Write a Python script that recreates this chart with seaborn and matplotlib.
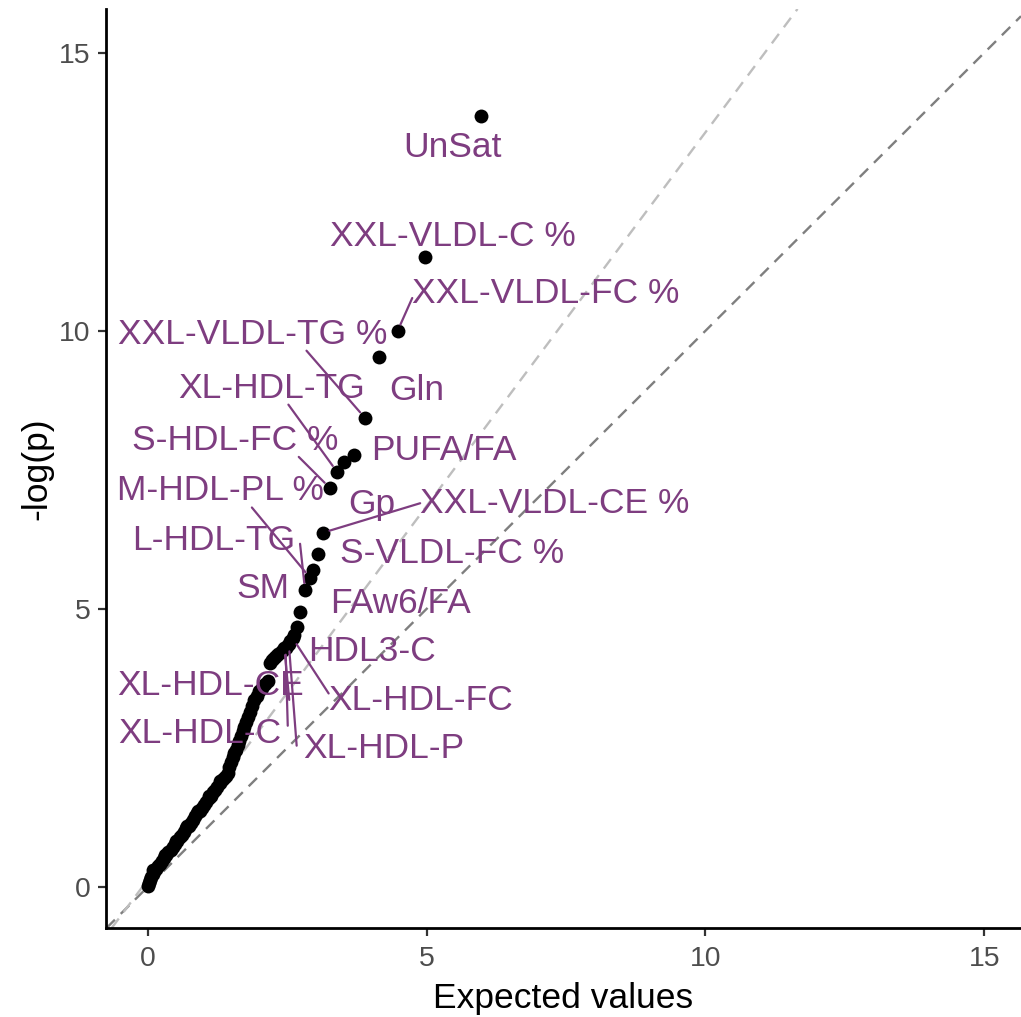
import matplotlib
matplotlib.use("Agg")
import numpy as np
import pandas as pd
import seaborn as sns
import matplotlib.pyplot as plt

# bulk of the QQ points (unlabelled)
bulk_exp = [0.00, 0.02, 0.04, 0.06, 0.09, 0.12, 0.15, 0.18, 0.21, 0.25, 0.29, 0.33, 0.37,
            0.41, 0.45, 0.49, 0.53, 0.57, 0.61, 0.65, 0.69, 0.73, 0.77, 0.81, 0.85, 0.89,
            0.93, 0.97, 1.01, 1.05, 1.09, 1.13, 1.17, 1.21, 1.25, 1.29, 1.33, 1.37, 1.41,
            1.44, 0.10, 0.30, 0.50, 0.70, 0.90, 1.10, 1.30,
            1.46, 1.49, 1.52, 1.55, 1.58, 1.61, 1.64, 1.67, 1.70, 1.73, 1.76, 1.79, 1.83,
            1.87, 1.91, 1.95, 2.00, 2.05, 2.10, 2.15,
            2.19, 2.22, 2.26, 2.30, 2.34, 2.38, 2.42, 2.50, 2.55, 2.62]
bulk_obs = [0.02, 0.07, 0.13, 0.18, 0.24, 0.28, 0.33, 0.37, 0.41, 0.46, 0.52, 0.57, 0.62,
            0.67, 0.72, 0.77, 0.83, 0.89, 0.94, 0.99, 1.05, 1.10, 1.15, 1.21, 1.27, 1.32,
            1.37, 1.42, 1.48, 1.53, 1.59, 1.64, 1.70, 1.75, 1.80, 1.86, 1.92, 1.96, 2.00,
            2.04, 0.30, 0.58, 0.82, 1.10, 1.36, 1.64, 1.90,
            2.16, 2.25, 2.33, 2.40, 2.47, 2.55, 2.63, 2.71, 2.80, 2.88, 2.96, 3.05, 3.15,
            3.26, 3.36, 3.44, 3.52, 3.58, 3.64, 3.70,
            4.03, 4.08, 4.12, 4.16, 4.19, 4.22, 4.26, 4.34, 4.42, 4.53]

# labelled metabolites
top_names = ["UnSat", "XXL-VLDL-C %", "XXL-VLDL-FC %", "Gln", "XXL-VLDL-TG %", "PUFA/FA",
             "Gp", "XL-HDL-TG", "S-HDL-FC %", "XXL-VLDL-CE %", "S-VLDL-FC %", "M-HDL-PL %",
             "L-HDL-TG", "SM", "FAw6/FA", "HDL3-C", "XL-HDL-FC", "XL-HDL-P", "XL-HDL-C",
             "XL-HDL-CE"]
top_exp = [5.97, 4.97, 4.48, 4.14, 3.89, 3.70, 3.52, 3.39, 3.26, 3.14, 3.05, 2.91,
           2.82, 2.96, 2.73, 2.67, 2.60, 2.53, 2.47, 2.45]
top_obs = [13.87, 11.33, 10.00, 9.53, 8.44, 7.77, 7.64, 7.47, 7.18, 6.37, 5.99, 5.56,
           5.34, 5.70, 4.95, 4.68, 4.47, 4.36, 4.30, 4.29]

# where the repelled labels ended up
lab_x = [5.47, 5.47, 7.14, 4.83, 1.88, 5.31, 4.02, 2.22, 1.56, 7.30, 5.45, 1.31,
         1.18, 2.06, 4.54, 4.02, 4.90, 4.23, 0.93, 1.13]
lab_y = [13.29, 11.70, 10.68, 8.93, 9.94, 7.85, 6.88, 8.97, 8.03, 6.90, 6.00, 7.12,
         6.23, 5.37, 5.10, 4.24, 3.36, 2.48, 2.75, 3.63]
# segment start inside label box (None = no segment)
seg_rel = [None, None, (0.0, 0.35), None, (0.70, 0.0), None, None, (0.59, 0.0),
           (0.81, 0.0), (0.0, 0.5), None, (0.65, 0.0), (1.03, 0.4), None, None, None,
           (0.0, 0.7), (-0.04, 0.6), (1.04, 0.75), (0.92, 0.05)]

fit_intercept = 0.13
fit_slope = 1.344

df = pd.DataFrame({"expected": bulk_exp + top_exp, "observed": bulk_obs + top_obs})

sns.set_style("ticks")
plt.rcParams["font.family"] = ["Liberation Sans", "DejaVu Sans"]

fig = plt.figure(figsize=(10.21, 10.17), dpi=100)
ax = fig.add_axes([0.1038, 0.0875, 0.8962, 0.9037])

ax.axline((0, 0), slope=1, color="#7f7f7f", lw=1.7, ls=(0, (5, 3.5)), zorder=1)
ax.axline((0, fit_intercept), slope=fit_slope, color="#bebebe", lw=1.7, ls=(0, (5, 3.5)), zorder=1)

sns.scatterplot(data=df, x="expected", y="observed", color="black", s=100,
                linewidth=0, ax=ax, zorder=2)

purple = "#7e3d80"
for i, name in enumerate(top_names):
    if seg_rel[i] is None:
        ax.text(lab_x[i], lab_y[i], name, color=purple, fontsize=25.5,
                ha="center", va="center", zorder=4)
    else:
        ax.annotate(name, xy=(top_exp[i], top_obs[i]), xytext=(lab_x[i], lab_y[i]),
                    color=purple, fontsize=25.5, ha="center", va="center", zorder=4,
                    arrowprops=dict(arrowstyle="-", color=purple, lw=1.6,
                                    relpos=seg_rel[i], patchA=None,
                                    shrinkA=0, shrinkB=5))

ax.set_xlim(-0.75, 15.66)
ax.set_ylim(-0.74, 15.79)
ax.set_xticks([0, 5, 10, 15])
ax.set_yticks([0, 5, 10, 15])
ax.set_xlabel("Expected values", fontsize=25.5, color="black", labelpad=7)
ax.set_ylabel("-log(p)", fontsize=25.5, color="black", labelpad=4)
ax.tick_params(axis="both", labelsize=20.4, labelcolor="#4d4d4d", color="#333333",
               length=6, width=1.6)
ax.tick_params(axis="x", pad=7)
ax.tick_params(axis="y", pad=5)
for sp in ["left", "bottom"]:
    ax.spines[sp].set_linewidth(2.0)
    ax.spines[sp].set_color("black")
sns.despine(ax=ax)

fig.savefig("out.png", dpi=100)
